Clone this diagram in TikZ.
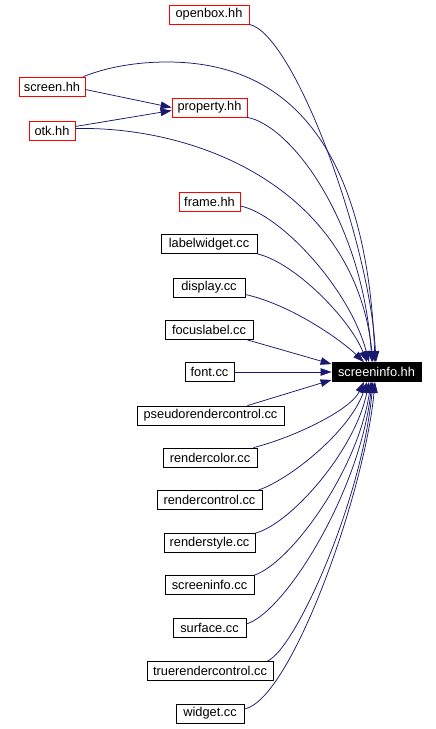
\documentclass[tikz,border=0pt]{standalone}
\usepackage{fontspec}
\setmainfont{Liberation Sans}
\usetikzlibrary{arrows.meta}
\definecolor{edgeblue}{RGB}{25,25,112}
\begin{document}
\begin{tikzpicture}[x=1pt,y=-1pt,
  box/.style={draw=black,fill=white,line width=0.8pt,inner sep=0pt,minimum height=19pt,
    font=\fontsize{12.8}{14}\selectfont},
  redbox/.style={box,draw=red},
  mainbox/.style={box,fill=black,text=white},
  dep/.style={draw=edgeblue,line width=0.75pt,-{Triangle[length=11pt,width=7.5pt]},fill=none}
]
\useasboundingbox (0,0) rectangle (436,729);
\fill[white] (0,0) rectangle (436,729);
% nodes
\node[redbox,minimum width=80pt] (openbox) at (209,14.5) {openbox.hh};
\node[redbox,minimum width=66pt] (screen) at (52,86.5) {screen.hh};
\node[redbox,minimum width=75pt] (property) at (209.5,107.5) {property.hh};
\node[redbox,minimum width=46pt] (otk) at (52,130.5) {otk.hh};
\node[redbox,minimum width=61pt] (frame) at (209.5,201.5) {frame.hh};
\node[box,minimum width=96pt] (labelwidget) at (209,244) {labelwidget.cc};
\node[box,minimum width=72pt] (display) at (209,287.5) {display.cc};
\node[box,minimum width=88pt] (focuslabel) at (209,330) {focuslabel.cc};
\node[box,minimum width=49pt] (font) at (209.5,372) {font.cc};
\node[mainbox,minimum width=89pt] (si) at (376.5,372) {screeninfo.hh};
\node[box,minimum width=147pt] (pseudo) at (210.5,415.5) {pseudorendercontrol.cc};
\node[box,minimum width=94pt] (rendercolor) at (210,457.5) {rendercolor.cc};
\node[box,minimum width=105pt] (rendercontrol) at (209.5,500) {rendercontrol.cc};
\node[box,minimum width=91pt] (renderstyle) at (209.5,543) {renderstyle.cc};
\node[box,minimum width=89pt] (sicc) at (209.5,585) {screeninfo.cc};
\node[box,minimum width=73pt] (surface) at (209.5,628) {surface.cc};
\node[box,minimum width=126pt] (truerender) at (210,671) {truerendercontrol.cc};
\node[box,minimum width=68pt] (widget) at (210,713.5) {widget.cc};
% edges into property.hh
\draw[dep] ([yshift=-3pt]screen.east) -- (property.west);
\draw[dep] ([yshift=4pt]otk.east) -- ([yshift=-3pt]property.west);
% edges into screeninfo.hh (upper)
\draw[dep] (openbox.south east) .. controls +(45,10) and +(-6,-120) .. ([xshift=-0.5pt]si.north);
\draw[dep] ([xshift=-2pt]screen.north east) .. controls (110,66) and (140,62) .. (167,62)
   .. controls (250,62) and (365,100) .. ([xshift=-1.5pt]si.north);
\draw[dep] ([yshift=2pt]otk.east) .. controls (200,126) and (355,190) .. ([xshift=-3.5pt]si.north);
\draw[dep] (property.south east) .. controls +(43,8) and +(-10,-143) .. ([xshift=-4.5pt]si.north);
\draw[dep] ([yshift=-4.5pt]frame.east) .. controls +(40,8) and +(-19,-73) .. ([xshift=-7.5pt]si.north);
\draw[dep] (labelwidget.south east) .. controls +(38,9) and +(-17,-43) .. ([xshift=-9.5pt]si.north);
\draw[dep] ([yshift=-7pt]display.east) .. controls +(45,10) and +(-24,-23) .. ([xshift=-12.5pt]si.north);
\draw[dep] ([xshift=-6pt]focuslabel.south east) -- ([yshift=-2pt]si.north west);
\draw[dep] (font.east) -- (si.west);
\draw[dep] ([xshift=-37pt]pseudo.north east) -- ([yshift=2pt]si.south west);
% edges into screeninfo.hh (lower)
\draw[dep] ([xshift=-4pt]rendercolor.north east) .. controls +(37,-9) and +(-14,29) .. ([xshift=-12.5pt]si.south);
\draw[dep] ([xshift=-4pt]rendercontrol.north east) .. controls +(32,-11) and +(-17,49) .. ([xshift=-9.5pt]si.south);
\draw[dep] (renderstyle.north east) .. controls +(35,-9) and +(-14,69) .. ([xshift=-7.5pt]si.south);
\draw[dep] (sicc.north east) .. controls +(36,-12) and +(-13,89) .. ([xshift=-5.5pt]si.south);
\draw[dep] ([yshift=4pt]surface.east) .. controls +(39,-12) and +(-12,109) .. ([xshift=-4.5pt]si.south);
\draw[dep] ([xshift=-6pt]truerender.north east) .. controls +(28,-12) and +(-11,119) .. ([xshift=-3.5pt]si.south);
\draw[dep] ([yshift=4.5pt]widget.east) .. controls +(47,-9) and +(-10,109) .. ([xshift=-1.5pt]si.south);
\end{tikzpicture}
\end{document}
